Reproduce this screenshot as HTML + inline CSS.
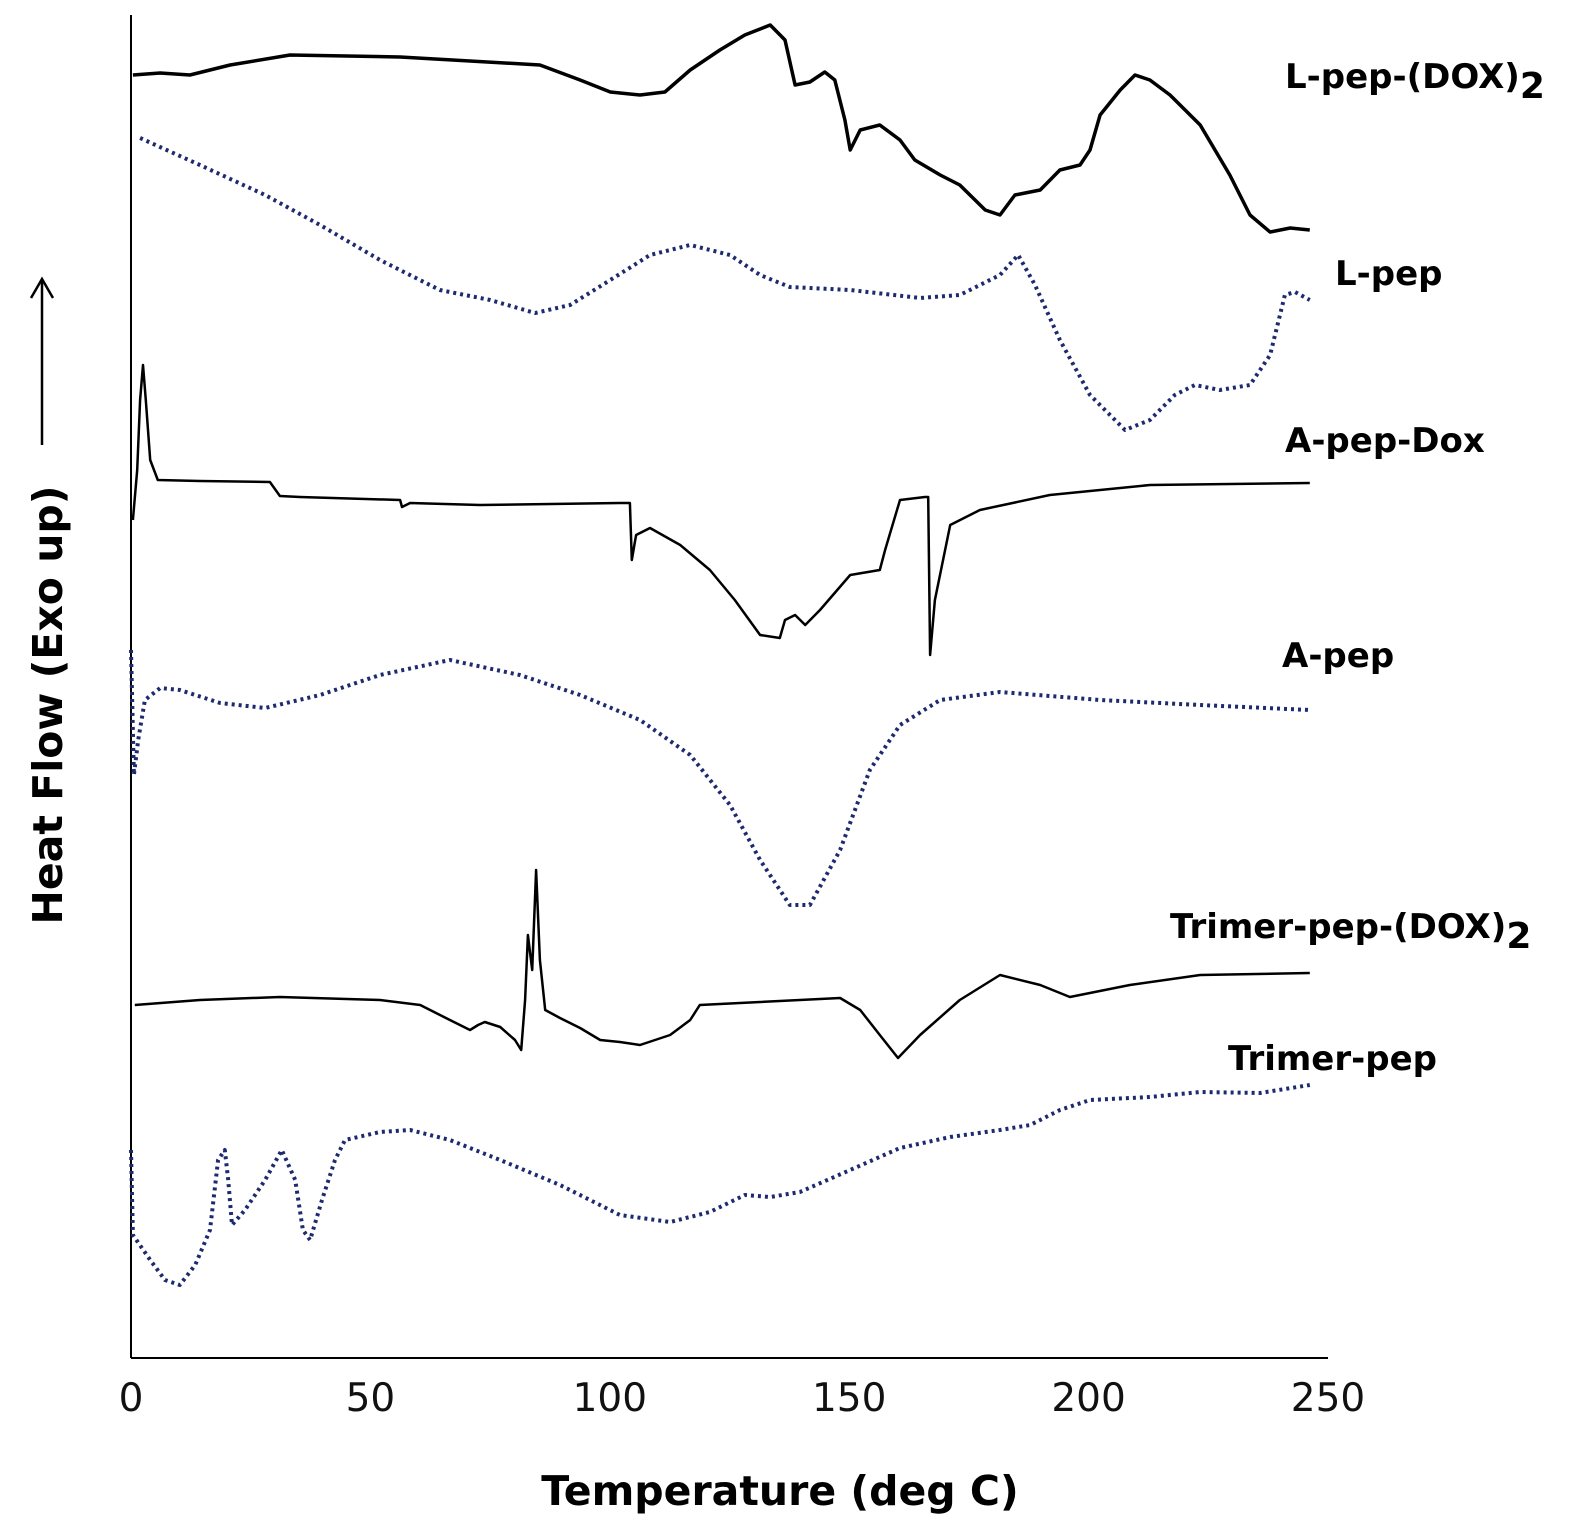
<!DOCTYPE html>
<html><head><meta charset="utf-8"><style>
html,body{margin:0;padding:0;background:#fff;}
svg{display:block;}
text{font-family:"DejaVu Sans","Liberation Sans",sans-serif;}
</style></head><body>
<svg id="chart" width="1574" height="1536" viewBox="0 0 1574 1536">
<g id="axes"></g>
<g id="series"></g>
<g id="labels"></g>
</svg>
<script>
const xTicks = [0, 50, 100, 150, 200, 250];
const seriesNames = ["L-pep-(DOX)2","L-pep","A-pep-Dox","A-pep","Trimer-pep-(DOX)2","Trimer-pep"];
const lpepDoxT = [0.4,6.1,12.3,20.7,33.2,56.2,85.4,93.8,100.1,106.3,111.5,116.8,123.0,128.2,133.5,136.6,138.7,141.8,144.9,147.0,149.1,150.2,152.3,156.4,160.6,163.7,169.0,173.1,178.4,181.5,184.6,189.9,194.0,198.2,200.3,202.4,206.6,209.7,212.8,217.0,223.3,229.5,233.7,237.9,242.1,246.2];
const lpepDoxV = [128.3,128.5,128.3,129.3,130.3,130.1,129.3,127.8,126.6,126.3,126.6,128.8,130.8,132.3,133.3,131.8,127.3,127.6,128.6,127.8,123.8,120.8,122.8,123.3,121.8,119.8,118.3,117.3,114.8,114.3,116.3,116.8,118.8,119.3,120.8,124.3,126.8,128.3,127.8,126.3,123.3,118.3,114.3,112.6,113.0,112.8];
const lpepT = [1.9,14.4,28.0,39.5,52.0,64.5,75.0,84.4,91.7,100.1,108.4,116.8,125.1,131.4,137.6,150.2,164.8,173.1,181.5,185.3,188.8,194.0,200.3,207.6,212.8,218.0,222.2,227.4,233.7,237.9,241.0,243.1,246.2];
const lpepV = [122.0,119.3,116.3,113.3,109.8,106.8,105.8,104.5,105.3,107.8,110.3,111.3,110.3,108.3,107.1,106.8,106.0,106.3,108.3,110.3,107.3,101.8,96.3,92.8,93.8,96.3,97.3,96.8,97.3,100.3,106.3,106.6,105.8];
const apepDoxT = [0.4,1.3,1.9,2.5,3.1,4.0,5.6,14.4,29.0,31.1,35.3,56.2,56.6,58.3,72.9,102.1,104.2,104.6,105.5,108.4,114.7,120.9,126.1,131.4,135.5,136.6,138.7,140.8,143.9,150.2,156.4,157.5,160.6,165.8,166.5,166.9,167.9,171.1,177.3,191.9,212.8,246.2];
const apepDoxV = [83.8,88.8,95.8,99.3,95.8,89.8,87.8,87.7,87.6,86.2,86.1,85.8,85.1,85.5,85.3,85.5,85.5,79.8,82.3,83.0,81.3,78.8,75.8,72.3,72.0,73.8,74.3,73.3,74.8,78.3,78.8,80.8,85.8,86.1,86.1,70.3,75.8,83.3,84.8,86.3,87.3,87.5];
const apepT = [0,0.6,1.5,2.9,6.1,10.2,18.6,28.0,39.5,52.0,66.6,81.2,93.8,106.3,116.8,125.1,131.4,137.6,141.8,148.1,154.3,160.6,169.0,181.5,202.4,223.3,246.2];
const apepV = [70.8,58.3,61.8,65.8,67.0,66.8,65.5,65.0,66.3,68.3,69.8,68.3,66.3,63.8,60.3,55.3,49.8,45.3,45.3,50.8,58.8,63.3,65.8,66.6,65.8,65.3,64.8];
const trimerDoxT = [0.8,14.4,31.1,52.0,60.4,66.6,70.8,72.5,73.9,77.1,80.2,81.5,82.3,82.9,83.8,84.6,85.4,86.5,89.6,93.8,98.0,102.1,106.3,112.6,116.8,118.8,131.4,148.1,152.3,156.4,160.2,164.8,173.1,181.5,189.9,196.1,208.6,223.3,246.2];
const trimerDoxV = [35.3,35.8,36.1,35.8,35.3,33.8,32.8,33.3,33.6,33.1,31.8,30.8,35.8,42.3,38.8,48.8,39.8,34.8,34.0,33.0,31.8,31.6,31.3,32.3,33.8,35.3,35.6,36.0,34.8,32.3,30.0,32.3,35.8,38.3,37.3,36.1,37.3,38.3,38.5];
const trimerT = [0,0.4,4.0,7.1,10.2,13.4,16.5,18.2,19.6,20.3,21.1,23.8,28.0,31.5,34.3,35.9,37.4,39.9,42.6,44.7,52.0,58.3,66.6,77.1,89.6,102.1,112.6,120.9,128.2,133.5,139.7,150.2,160.6,171.1,181.5,187.8,194.0,200.3,212.8,223.3,235.8,246.2];
const trimerV = [20.8,12.3,9.8,7.8,7.3,9.3,12.8,19.8,20.8,17.8,13.3,14.8,17.8,20.8,17.8,12.8,11.8,15.8,19.8,21.8,22.6,22.8,21.8,19.8,17.3,14.3,13.6,14.6,16.3,16.1,16.6,18.8,21.0,22.1,22.8,23.3,24.8,25.8,26.1,26.6,26.5,27.3];

const NS = "http://www.w3.org/2000/svg";
const X0 = 131, X1 = 1328, Y0 = 1358;
function xs(t){ return X0 + (t/250)*(X1-X0); }
function ys(v){ return Y0 - v*10; }
function mk(tag, attrs, parent){
  const e = document.createElementNS(NS, tag);
  for (const k in attrs) e.setAttribute(k, attrs[k]);
  parent.appendChild(e); return e;
}
const axes = document.getElementById('axes');
const yAxis = mk('line',{x1:X0,y1:15,x2:X0,y2:Y0,stroke:'#000','stroke-width':2},axes);


const xAxis = mk('line',{x1:X0,y1:Y0,x2:X1,y2:Y0,stroke:'#000','stroke-width':2},axes);


xTicks.forEach(t=>{
  const tl = mk('text',{x:xs(t),y:1411,'text-anchor':'middle','font-size':39,fill:'#111'},axes);
  tl.textContent = t;
  
  
});
const xt = mk('text',{x:780,y:1505,'text-anchor':'middle','font-size':41,'font-weight':'bold',fill:'#000'},axes);
xt.textContent = 'Temperature (deg C)';


const yt = mk('text',{x:0,y:0,'text-anchor':'middle','font-size':41,'font-weight':'bold',fill:'#000',transform:'translate(62,705) rotate(-90)'},axes);
yt.textContent = 'Heat Flow (Exo up)';


const arrow = mk('g',{},axes);


mk('line',{x1:42,y1:445,x2:42,y2:280,stroke:'#000','stroke-width':2.5},arrow);
mk('polyline',{points:'31,298 42,279 53,298',fill:'none',stroke:'#000','stroke-width':2.5},arrow);

const sg = document.getElementById('series');
function draw(T, V, name, dotted, width){
  const d = T.map((t,i)=>(i?'L':'M')+xs(t).toFixed(1)+','+ys(V[i]).toFixed(1)).join(' ');
  const p = mk('path',{d:d,fill:'none',stroke:dotted?'#1e2a6e':'#000','stroke-width':width,'stroke-linejoin':'round'},sg);
  if (dotted) p.setAttribute('stroke-dasharray','3,4');
  
  
}
draw(lpepDoxT, lpepDoxV, 'line-l-pep-dox2', false, 3.5);
draw(lpepT, lpepV, 'line-l-pep', true, 4);
draw(apepDoxT, apepDoxV, 'line-a-pep-dox', false, 2.5);
draw(apepT, apepV, 'line-a-pep', true, 4);
draw(trimerDoxT, trimerDoxV, 'line-trimer-pep-dox2', false, 2.5);
draw(trimerT, trimerV, 'line-trimer-pep', true, 4);

const lg = document.getElementById('labels');
const labelPos = [[1285,88,true],[1335,285,false],[1285,452,false],[1282,667,false],[1170,938,true],[1228,1070,false]];
seriesNames.forEach((n,i)=>{
  const [x,y,sub] = labelPos[i];
  const t = mk('text',{x:x,y:y,'font-size':34,'font-weight':'bold',fill:'#000'},lg);
  if (sub){
    t.textContent = n.slice(0,-1);
    const s = mk('tspan',{dy:10,'font-size':36},t);
    s.textContent = '2';
  } else t.textContent = n;
  
  
});
</script>
</body></html>
